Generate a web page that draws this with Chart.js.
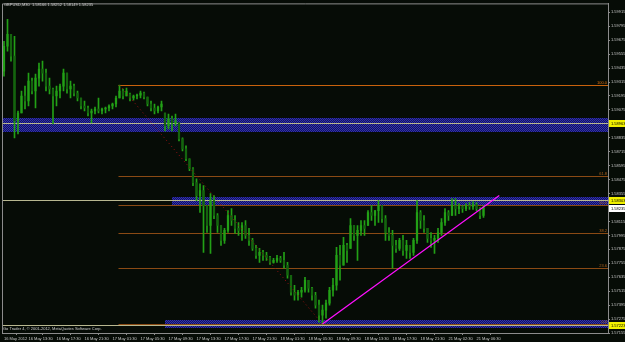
<!DOCTYPE html>
<html><head><meta charset="utf-8">
<script src="https://cdn.jsdelivr.net/npm/chart.js@4.4.1/dist/chart.umd.min.js"></script>
<style>html,body{margin:0;padding:0;background:#060c06;overflow:hidden}canvas{display:block}</style>
</head><body>
<canvas id="c" width="625" height="342"></canvas>
<script>
const symbolTitle = "GBPUSD,M30";
const openP = [1.59409,1.59623,1.59726,1.59538,1.58980,1.59049,1.59195,1.59152,1.59323,1.59238,
1.59349,1.59426,1.59392,1.59280,1.59255,1.59195,1.59238,1.59280,1.59392,1.59255,
1.59280,1.59220,1.59178,1.59109,1.59092,1.59049,1.59066,1.59083,1.59066,1.59083,
1.59092,1.59109,1.59126,1.59178,1.59238,1.59195,1.59212,1.59178,1.59195,1.59203,
1.59220,1.59186,1.59126,1.59092,1.59066,1.59100,1.59049,1.58938,1.58998,1.58963,
1.58963,1.58826,1.58740,1.58655,1.58569,1.58449,1.58338,1.58380,1.58252,1.58080,
1.58295,1.58166,1.58080,1.57952,1.58038,1.58166,1.58123,1.58055,1.58038,1.58080,
1.57995,1.57952,1.57883,1.57823,1.57849,1.57823,1.57806,1.57763,1.57780,1.57798,
1.57780,1.57738,1.57652,1.57506,1.57480,1.57506,1.57523,1.57609,1.57540,1.57480,
1.57395,1.57309,1.57352,1.57412,1.57523,1.57566,1.57823,1.57738,1.57909,1.57883,
1.58080,1.57995,1.58038,1.58080,1.58080,1.58192,1.58166,1.58209,1.58252,1.58140,
1.58020,1.57995,1.57909,1.57883,1.57952,1.57866,1.57909,1.57849,1.57952,1.58192,
1.58123,1.58055,1.57969,1.57952,1.57969,1.58020,1.58106,1.58192,1.58166,1.58252,
1.58226,1.58243,1.58226,1.58252,1.58243,1.58260,1.58226,1.58166];
const highP = [1.59666,1.59855,1.59726,1.59709,1.59066,1.59238,1.59280,1.59392,1.59349,1.59383,
1.59478,1.59495,1.59426,1.59349,1.59263,1.59280,1.59298,1.59426,1.59392,1.59323,
1.59298,1.59238,1.59178,1.59152,1.59109,1.59083,1.59100,1.59178,1.59092,1.59100,
1.59118,1.59135,1.59195,1.59289,1.59255,1.59263,1.59220,1.59203,1.59212,1.59238,
1.59229,1.59186,1.59152,1.59126,1.59109,1.59152,1.59049,1.59040,1.59023,1.59040,
1.58963,1.58835,1.58766,1.58655,1.58578,1.58483,1.58440,1.58423,1.58252,1.58355,
1.58338,1.58183,1.58080,1.58055,1.58209,1.58226,1.58166,1.58106,1.58106,1.58123,
1.58055,1.57969,1.57909,1.57883,1.57866,1.57849,1.57815,1.57798,1.57823,1.57815,
1.57849,1.57763,1.57652,1.57566,1.57523,1.57549,1.57635,1.57609,1.57549,1.57506,
1.57438,1.57395,1.57438,1.57549,1.57626,1.57892,1.57909,1.57978,1.57926,1.58140,
1.58080,1.58080,1.58123,1.58123,1.58209,1.58252,1.58209,1.58295,1.58252,1.58166,
1.58063,1.58038,1.57952,1.57969,1.57995,1.57952,1.57909,1.57969,1.58295,1.58209,
1.58166,1.58055,1.58020,1.57995,1.58055,1.58140,1.58226,1.58209,1.58312,1.58312,
1.58269,1.58252,1.58269,1.58278,1.58286,1.58278,1.58235,1.58252];
const lowP = [1.59366,1.59580,1.59495,1.58835,1.58869,1.59049,1.59083,1.59109,1.59212,1.59092,
1.59280,1.59323,1.59238,1.59212,1.58955,1.59109,1.59178,1.59238,1.59220,1.59178,
1.59195,1.59152,1.59083,1.59066,1.59023,1.58963,1.59040,1.59049,1.59040,1.59049,
1.59066,1.59083,1.59100,1.59178,1.59169,1.59195,1.59152,1.59160,1.59169,1.59178,
1.59169,1.59109,1.59066,1.59040,1.59049,1.59066,1.58895,1.58912,1.58895,1.58938,
1.58809,1.58723,1.58638,1.58552,1.58423,1.58295,1.58192,1.57849,1.58020,1.57840,
1.58140,1.58020,1.57909,1.57926,1.58020,1.58080,1.58012,1.57995,1.57952,1.57969,
1.57909,1.57866,1.57798,1.57763,1.57780,1.57780,1.57746,1.57755,1.57763,1.57763,
1.57712,1.57626,1.57480,1.57438,1.57438,1.57463,1.57506,1.57506,1.57438,1.57369,
1.57249,1.57232,1.57283,1.57395,1.57472,1.57523,1.57609,1.57738,1.57763,1.57883,
1.57952,1.57780,1.57995,1.57995,1.58080,1.58123,1.58080,1.58106,1.58106,1.57952,
1.57952,1.57712,1.57849,1.57866,1.57823,1.57798,1.57798,1.57823,1.57926,1.58055,
1.58020,1.57935,1.57892,1.57840,1.57935,1.57995,1.58080,1.58123,1.58166,1.58166,
1.58183,1.58192,1.58209,1.58218,1.58218,1.58209,1.58140,1.58149];
const closeP = [1.59623,1.59726,1.59538,1.58980,1.59049,1.59195,1.59152,1.59323,1.59238,1.59349,
1.59426,1.59392,1.59280,1.59255,1.59195,1.59238,1.59280,1.59392,1.59255,1.59280,
1.59220,1.59178,1.59109,1.59092,1.59049,1.59066,1.59083,1.59066,1.59083,1.59092,
1.59109,1.59126,1.59178,1.59238,1.59195,1.59238,1.59178,1.59195,1.59203,1.59220,
1.59186,1.59126,1.59092,1.59066,1.59100,1.59126,1.58938,1.58998,1.58963,1.58980,
1.58826,1.58740,1.58655,1.58569,1.58449,1.58338,1.58380,1.58252,1.58080,1.58295,
1.58166,1.58080,1.57952,1.58038,1.58166,1.58123,1.58055,1.58038,1.58080,1.57995,
1.57952,1.57883,1.57823,1.57849,1.57823,1.57806,1.57763,1.57780,1.57798,1.57780,
1.57738,1.57652,1.57506,1.57480,1.57506,1.57523,1.57609,1.57540,1.57480,1.57395,
1.57309,1.57352,1.57412,1.57523,1.57566,1.57823,1.57738,1.57909,1.57866,1.58080,
1.57995,1.58038,1.58080,1.58055,1.58192,1.58166,1.58209,1.58252,1.58140,1.58020,
1.57995,1.57909,1.57883,1.57952,1.57866,1.57909,1.57849,1.57952,1.58192,1.58123,
1.58055,1.57969,1.57952,1.57969,1.58020,1.58106,1.58192,1.58166,1.58252,1.58226,
1.58243,1.58226,1.58252,1.58243,1.58260,1.58226,1.58166,1.58235];

const timeTickBars = [0,7,15,23,31,39,47,55,63,71,79,87,95,103,111,119,127,135];
const timeTickLabels = ["16 May 2012","16 May 13:30","16 May 17:30","16 May 21:30","17 May 01:30","17 May 05:30","17 May 09:30","17 May 13:30","17 May 17:30","17 May 21:30","18 May 01:30","18 May 05:30","18 May 09:30","18 May 13:30","18 May 17:30","18 May 21:30","21 May 02:30","21 May 06:30"];
const priceTicks = [1.59915,1.59795,1.59675,1.59555,1.59435,1.59315,1.59195,1.59075,1.58955,1.58835,1.58715,1.58595,1.58475,1.58355,1.58235,1.58115,1.57995,1.57875,1.57755,1.57635,1.57515,1.57395,1.57275,1.57155];

const zoneTop = [1.59006, 1.58329, 1.57266];
const zoneBottom = [1.58886, 1.58252, 1.57198];
const zoneLevel = [1.58963, 1.58303, 1.57223];
const zoneStartBar = [-2, 48, 46];

const fibRatios = [0, 23.6, 38.2, 50, 61.8, 100];
const fibHighBar = 33, fibHighPrice = 1.59289;
const fibLowBar = 91, fibLowPrice = 1.57232;

const trendBars = [91, 141.5];
const trendPrices = [1.57232, 1.58338];
const bidPrice = 1.58235;

const FONT = 'Liberation Sans';
const pat = (() => {
  const c = document.createElement('canvas'); c.width = 2; c.height = 2;
  const g = c.getContext('2d');
  g.fillStyle = '#14145e'; g.fillRect(0,0,2,2);
  g.fillStyle = '#3030b0'; g.fillRect(0,0,1,1); g.fillRect(1,1,1,1);
  return g.createPattern(c, 'repeat');
})();

const decor = {
  id: 'decor',
  beforeDraw(chart) {
    const ctx = chart.ctx;
    ctx.save(); ctx.fillStyle = '#060c06'; ctx.fillRect(0,0,chart.width,chart.height); ctx.restore();
  },
  beforeDatasetsDraw(chart) {
    const {ctx, chartArea:a, scales:{x,y}} = chart;
    ctx.save();
    ctx.beginPath(); ctx.rect(a.left, a.top, a.width, a.height); ctx.clip();
    for (let k = 0; k < zoneTop.length; k++) {
      const x0 = Math.max(a.left, x.getPixelForValue(zoneStartBar[k]));
      const yT = Math.round(y.getPixelForValue(zoneTop[k]));
      const yB = Math.round(y.getPixelForValue(zoneBottom[k]));
      ctx.fillStyle = pat; ctx.fillRect(Math.round(x0), yT, a.right - Math.round(x0), yB - yT);
    }
    // fib levels
    const fx = x.getPixelForValue(fibHighBar) - 1;
    ctx.lineWidth = 1;
    fibRatios.forEach(r => {
      const p = fibLowPrice + r/100*(fibHighPrice - fibLowPrice);
      const yy = Math.round(y.getPixelForValue(p)) + 0.5;
      ctx.strokeStyle = r === 100 ? '#c8620c' : '#8a4a14';
      ctx.beginPath(); ctx.moveTo(fx, yy); ctx.lineTo(a.right, yy); ctx.stroke();
    });
    // zone level lines
    ctx.strokeStyle = '#b8b890';
    zoneLevel.forEach(v => {
      const yy = Math.round(y.getPixelForValue(v)) + 0.5;
      ctx.beginPath(); ctx.moveTo(a.left, yy); ctx.lineTo(a.right, yy); ctx.stroke();
    });
    ctx.restore();
  },
  afterDraw(chart) {
    const {ctx, chartArea:a, scales:{x,y}} = chart;
    ctx.save();
    // frame
    ctx.strokeStyle = '#8c8c8c'; ctx.lineWidth = 1;
    ctx.beginPath(); ctx.moveTo(a.left+0.5, a.bottom); ctx.lineTo(a.left+0.5, a.top+0.5); ctx.lineTo(a.right, a.top+0.5); ctx.stroke();
    // fib labels
    ctx.font = '4px ' + FONT; ctx.textAlign = 'right'; ctx.textBaseline = 'bottom';
    fibRatios.forEach(r => {
      const p = fibLowPrice + r/100*(fibHighPrice - fibLowPrice);
      const yy = y.getPixelForValue(p);
      ctx.fillStyle = r === 100 ? '#e07010' : '#b0621e';
      ctx.fillText(r.toFixed(1), a.right - 1, yy);
    });
    // axis highlight labels
    ctx.textAlign = 'left'; ctx.textBaseline = 'middle';
    const box = (v, bg) => {
      const yy = Math.round(y.getPixelForValue(v));
      ctx.fillStyle = bg; ctx.fillRect(a.right + 1, yy - 3, 16, 7);
      ctx.fillStyle = '#000'; ctx.fillText(v.toFixed(5), a.right + 3, yy + 0.5);
    };
    zoneLevel.forEach(v => box(v, '#f0f000'));
    box(bidPrice, '#ffffff');
    // title
    const n = closeP.length - 1;
    ctx.fillStyle = '#d0d0d0'; ctx.textAlign = 'left';
    ctx.fillText(symbolTitle + '  ' + [openP[n], highP[n], lowP[n], closeP[n]].map(v => v.toFixed(5)).join(' '), 4, 5);
    ctx.fillText('Go Trader 4, \u00a9 2001-2012, MetaQuotes Software Corp.', 3, 329);
    ctx.restore();
  }
};

const wickData = highP.map((h, i) => ({x: i, y: [lowP[i], h]}));
const bodyData = openP.map((o, i) => ({x: i, y: [o, closeP[i]]}));
const bodyColors = openP.map((o, i) => closeP[i] >= o ? '#22a016' : '#14640e');

new Chart(document.getElementById('c'), {
  type: 'bar',
  data: {
    datasets: [
      {type:'line', data: trendBars.map((b,i)=>({x:b, y:trendPrices[i]})), borderColor:'#ff10ff', borderWidth:1.2, pointRadius:0, order:1},
      {type:'line', data: [{x:fibHighBar, y:fibHighPrice},{x:fibLowBar, y:fibLowPrice}], borderColor:'#a01010', borderWidth:1, borderDash:[1,3], pointRadius:0, order:1},
      {type:'bar', data: bodyData, backgroundColor: bodyColors, barThickness: 1.6, minBarLength: 1, grouped:false, order:2},
      {type:'bar', data: wickData, backgroundColor:'#22a016', barThickness: 1, grouped:false, order:3}
    ]
  },
  options: {
    responsive: false, animation: false, devicePixelRatio: 1,
    layout: {padding: {left: 2, top: 2, right: 0, bottom: 0}},
    plugins: {legend: {display: false}, tooltip: {enabled: false}},
    scales: {
      x: {
        type: 'linear', min: -0.57, max: 172.57, offset: false,
        afterBuildTicks: s => { s.ticks = timeTickBars.map(v => ({value: v})); },
        afterFit: s => { s.height = 9; },
        ticks: {autoSkip: false, maxRotation: 0, minRotation: 0, align: 'start', padding: 1,
          color: '#c8c8c8', font: {size: 4, family: FONT},
          callback: (v, i) => timeTickLabels[i]},
        grid: {drawOnChartArea: false, drawTicks: true, tickLength: 2, color: '#8c8c8c'},
        border: {display: true, color: '#8c8c8c'}
      },
      y: {
        position: 'right', min: 1.57155, max: 1.59992,
        afterBuildTicks: s => { s.ticks = priceTicks.map(v => ({value: v})); },
        afterFit: s => { s.width = 17; },
        ticks: {padding: 1, color: '#c8c8c8', font: {size: 4, family: FONT}, callback: v => v.toFixed(5)},
        grid: {drawOnChartArea: false, drawTicks: true, tickLength: 2, color: '#8c8c8c'},
        border: {display: true, color: '#8c8c8c'}
      }
    }
  },
  plugins: [decor]
});
</script>
</body></html>
